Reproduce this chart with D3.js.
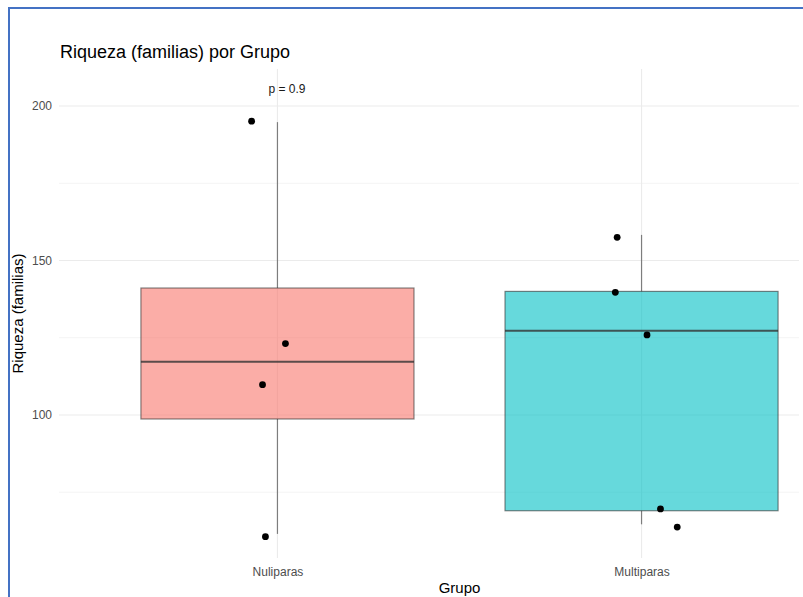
<!DOCTYPE html>
<html>
<head>
<meta charset="utf-8">
<script src="https://cdn.jsdelivr.net/npm/d3@7"></script>
<style>
  body { margin: 0; background: #fff; }
  svg { display: block; font-family: "Liberation Sans", Arial, sans-serif; }
</style>
</head>
<body>
<script>
// data

const groups = ["Nuliparas", "Multiparas"];
const q1 = [98.7, 69.0];
const medians = [117.2, 127.3];
const q3 = [141.1, 140.0];
const whiskerLow = [61.5, 64.6];
const whiskerHigh = [194.8, 158.3];

const pointGroup = ["Nuliparas", "Nuliparas", "Nuliparas", "Nuliparas",
  "Multiparas", "Multiparas", "Multiparas", "Multiparas", "Multiparas"];
const pointJitter = [-0.071, 0.022, -0.041, -0.033, -0.067, -0.072, 0.015, 0.052, 0.098];
const pointValue = [195.1, 123.1, 109.8, 60.6, 157.5, 139.7, 125.9, 69.6, 63.7];

const majorTicks = [100, 150, 200];
const minorTicks = [75, 125, 175];
const fills = ["#F8766D", "#00BFC4"];
const pLabel = "p = 0.9";
const pLabelY = 205.5;

// layout

const w = 803;
const h = 597;
const m = { top: 69, right: -57, bottom: 39, left: 59 };
const panelRight = 799;

const svg = d3.select("body").append("svg")
  .attr("width", w)
  .attr("height", h);

const x = d3.scalePoint()
  .domain(groups)
  .range([m.left, w - m.right])
  .padding(0.6);
const y = d3.scaleLinear()
  .domain([53.7, 212])
  .range([h - m.bottom, m.top]);

const step = x.step();
const boxW = step * 0.75;

// grid

svg.append("g").selectAll("line")
  .data(minorTicks).enter().append("line")
  .attr("x1", m.left).attr("x2", panelRight)
  .attr("y1", d => y(d)).attr("y2", d => y(d))
  .attr("stroke", "#f4f4f4").attr("stroke-width", 1);

svg.append("g").selectAll("line")
  .data(majorTicks).enter().append("line")
  .attr("x1", m.left).attr("x2", panelRight)
  .attr("y1", d => y(d)).attr("y2", d => y(d))
  .attr("stroke", "#ebebeb").attr("stroke-width", 1.1);

svg.append("g").selectAll("line")
  .data(groups).enter().append("line")
  .attr("x1", d => x(d)).attr("x2", d => x(d))
  .attr("y1", m.top).attr("y2", h - m.bottom)
  .attr("stroke", "#ebebeb").attr("stroke-width", 1.1);

// boxes

const boxes = svg.append("g").selectAll("g")
  .data(groups).enter().append("g");

boxes.append("line")
  .attr("x1", d => x(d)).attr("x2", d => x(d))
  .attr("y1", (d, i) => y(whiskerHigh[i]))
  .attr("y2", (d, i) => y(q3[i]))
  .attr("stroke", "#333").attr("stroke-opacity", 0.6).attr("stroke-width", 1.2);

boxes.append("line")
  .attr("x1", d => x(d)).attr("x2", d => x(d))
  .attr("y1", (d, i) => y(q1[i]))
  .attr("y2", (d, i) => y(whiskerLow[i]))
  .attr("stroke", "#333").attr("stroke-opacity", 0.6).attr("stroke-width", 1.2);

boxes.append("rect")
  .attr("x", d => x(d) - boxW / 2)
  .attr("width", boxW)
  .attr("y", (d, i) => y(q3[i]))
  .attr("height", (d, i) => y(q1[i]) - y(q3[i]))
  .attr("fill", (d, i) => fills[i])
  .attr("fill-opacity", 0.6)
  .attr("stroke", "#333").attr("stroke-opacity", 0.6).attr("stroke-width", 1.2);

boxes.append("line")
  .attr("x1", d => x(d) - boxW / 2).attr("x2", d => x(d) + boxW / 2)
  .attr("y1", (d, i) => y(medians[i])).attr("y2", (d, i) => y(medians[i]))
  .attr("stroke", "#333").attr("stroke-opacity", 0.8).attr("stroke-width", 2);

// jittered points

svg.append("g").selectAll("circle")
  .data(pointValue).enter().append("circle")
  .attr("cx", (d, i) => x(pointGroup[i]) + pointJitter[i] * step)
  .attr("cy", d => y(d))
  .attr("r", 3.4)
  .attr("fill", "#000");

// p value

svg.append("text")
  .attr("x", x(groups[0]) - 9)
  .attr("y", y(pLabelY))
  .attr("dy", "0.35em")
  .attr("font-size", 12)
  .attr("fill", "#1a1a1a")
  .text(pLabel);

// axes

const yAxis = svg.append("g")
  .attr("transform", "translate(" + (m.left - 7) + ",0)")
  .call(d3.axisLeft(y).tickValues(majorTicks).tickSize(0).tickPadding(0));
yAxis.select(".domain").remove();
yAxis.selectAll("text").attr("font-size", 12).attr("fill", "#4d4d4d")
  .attr("font-family", "Liberation Sans, Arial, sans-serif");

const xAxis = svg.append("g")
  .attr("transform", "translate(0," + (h - m.bottom + 9) + ")")
  .call(d3.axisBottom(x).tickSize(0).tickPadding(0));
xAxis.select(".domain").remove();
xAxis.selectAll("text").attr("font-size", 12).attr("fill", "#4d4d4d")
  .attr("font-family", "Liberation Sans, Arial, sans-serif");

// titles

svg.append("text")
  .attr("x", 60).attr("y", 58)
  .attr("font-size", 18)
  .attr("fill", "#000")
  .text("Riqueza (familias) por Grupo");

svg.append("text")
  .attr("transform", "translate(23," + (m.top + h - m.bottom) / 2 + ") rotate(-90)")
  .attr("text-anchor", "middle")
  .attr("font-size", 15)
  .attr("fill", "#000")
  .text("Riqueza (familias)");

svg.append("text")
  .attr("x", (m.left + w - m.right) / 2).attr("y", 593)
  .attr("text-anchor", "middle")
  .attr("font-size", 15)
  .attr("fill", "#000")
  .text("Grupo");

// screenshot frame

svg.append("path")
  .attr("d", "M9," + h + "V8H" + w)
  .attr("fill", "none")
  .attr("stroke", "#4472c4")
  .attr("stroke-width", 2);
</script>
</body>
</html>
